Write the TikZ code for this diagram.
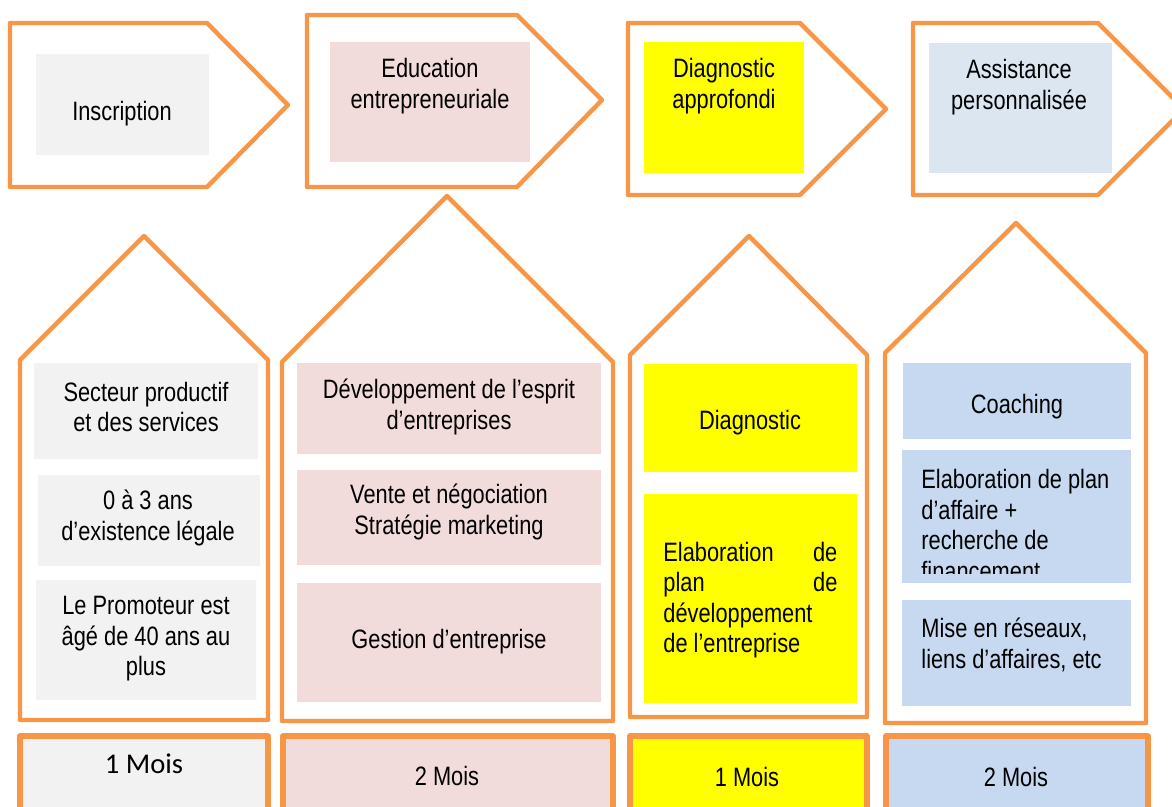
\documentclass[tikz,border=0pt]{standalone}
\usepackage{fontspec}
\setmainfont{Liberation Sans}[FakeStretch=0.82]
\newfontfamily\calibrifont{Carlito}
\definecolor{orangeline}{RGB}{247,150,70}
\definecolor{greycell}{RGB}{242,242,242}
\definecolor{pinkcell}{RGB}{242,220,219}
\definecolor{yellowcell}{RGB}{255,255,0}
\definecolor{paleblue}{RGB}{220,230,241}
\definecolor{bluecell}{RGB}{198,217,241}

\tikzset{
  frame/.style={draw=orangeline, line width=2.2pt, line join=round},
  durframe/.style={draw=orangeline, line width=2.8pt, line join=round},
  txt/.style={inner sep=0pt, align=center, yshift=-1.5pt, font=\fontsize{13.3}{15.2}\selectfont},
  lefttxt/.style={txt, align=flush left, anchor=west},
}

\begin{document}
\begin{tikzpicture}[x=0.5pt, y=-0.5pt]
    \useasboundingbox (0,0) rectangle (1172,807);

    % Top arrows
    \draw[frame] (10,23) -- (207,23) -- (288,105) -- (207,187) -- (10,187) -- cycle;
    \draw[frame] (307,15) -- (517,15) -- (602,100) -- (517,187) -- (307,187) -- cycle;
    \draw[frame] (628,23) -- (800,23) -- (886,109) -- (800,195) -- (628,195) -- cycle;
    \draw[frame] (913,23) -- (1098,23) -- (1184,109) -- (1098,195) -- (913,195) -- cycle;

    \fill[greycell] (36,54) rectangle (209,155);
    \fill[pinkcell] (330,42) rectangle (530,162);
    \fill[yellowcell] (644,42) rectangle (804,173);
    \fill[paleblue] (929,43) rectangle (1112,173);

    \node[txt] (inscription) at (122,111) {Inscription};
    \node[txt] (education) at (430,83) {Education\\entrepreneuriale};
    \node[txt] (approfondi) at (724,83) {Diagnostic\\approfondi};
    \node[txt] (assistance) at (1019,84) {Assistance\\personnalisée};

    % Houses
    \draw[frame] (20,720) -- (20,360) -- (144,236) -- (268,360) -- (268,720) -- cycle;
    \draw[frame] (282,721) -- (282,362) -- (447,196) -- (613,362) -- (613,721) -- cycle;
    \draw[frame] (630,717) -- (630,355) -- (749,236) -- (867,355) -- (867,717) -- cycle;
    \draw[frame] (885,723) -- (885,353) -- (1016,223) -- (1146,353) -- (1146,723) -- cycle;

    % First house
    \fill[greycell] (34,363) rectangle (258,459);
    \fill[greycell] (38,475) rectangle (260,566);
    \fill[greycell] (36,580) rectangle (256,700);
    \node[txt] (secteur) at (146,404) {Secteur productif\\et des services};
    \node[txt] (existence) at (148,515) {0 à 3 ans\\d’existence légale};
    \node[txt] (promoteur) at (146,636) {Le Promoteur est\\âgé de 40 ans au\\plus};

    % Second house
    \fill[pinkcell] (297,363) rectangle (601,454);
    \fill[pinkcell] (297,470) rectangle (601,565);
    \fill[pinkcell] (297,583) rectangle (601,702);
    \node[txt] (esprit) at (449,404) {Développement de l’esprit\\d’entreprises};
    \node[txt] (vente) at (449,509) {Vente et négociation\\Stratégie marketing};
    \node[txt] (gestion) at (449,639) {Gestion d’entreprise};

    % Third house
    \fill[yellowcell] (644,364) rectangle (857,472);
    \fill[yellowcell] (644,494) rectangle (857,703);
    \node[txt] (diagnostic) at (750,420) {Diagnostic};
    \node[lefttxt, text width=87pt] (planyellow) at (663,597)
        {Elaboration\hfill de\\plan\hfill de\\développement\\de l’entreprise};

    % Fourth house
    \fill[bluecell] (903,363) rectangle (1131,439);
    \fill[bluecell] (902,450) rectangle (1131,583);
    \fill[bluecell] (902,600) rectangle (1131,706);
    \node[txt] (coaching) at (1017,404) {Coaching};
    \begin{scope}
        \clip (902,450) rectangle (1131,573);
        \node[lefttxt] (planblue) at (921,522)
            {Elaboration de plan\\d’affaire +\\recherche de\\financement};
    \end{scope}
    \node[lefttxt] (reseaux) at (921,642) {Mise en réseaux,\\liens d’affaires, etc};

    % Durations
    \draw[durframe, fill=greycell] (20,736) rectangle (268,840);
    \draw[durframe, fill=pinkcell] (283,736) rectangle (613,840);
    \draw[durframe, fill=yellowcell] (630,736) rectangle (867,840);
    \draw[durframe, fill=bluecell] (886,736) rectangle (1148,840);
    \node[inner sep=0pt, font=\calibrifont\fontsize{14.3}{16}\selectfont] (mois1) at (144,764) {1 Mois};
    \node[txt] (mois2) at (447,773) {2 Mois};
    \node[txt] (mois3) at (747,774) {1 Mois};
    \node[txt] (mois4) at (1016,774) {2 Mois};
\end{tikzpicture}
\end{document}
